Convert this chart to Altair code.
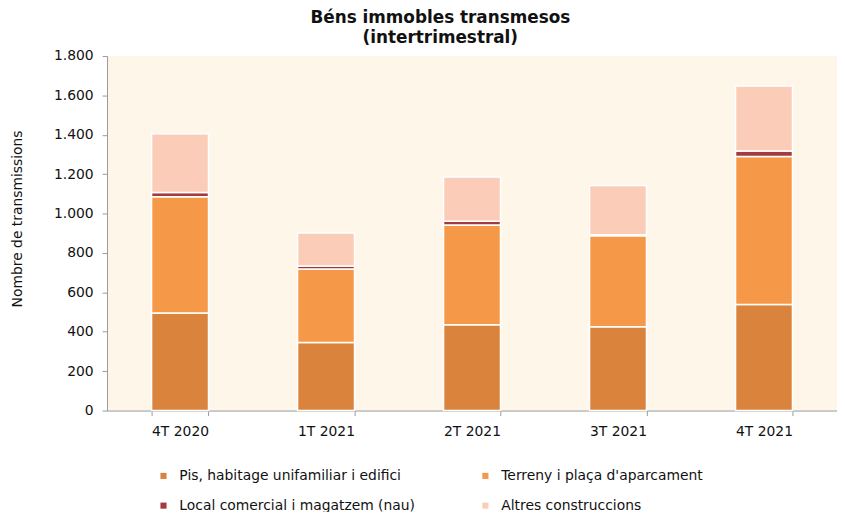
import altair as alt
import pandas as pd

quarters = ["4T 2020", "1T 2021", "2T 2021", "3T 2021", "4T 2021"]
series = [
    "Pis, habitage unifamiliar i edifici",
    "Terreny i plaça d'aparcament",
    "Local comercial i magatzem (nau)",
    "Altres construccions",
]
pis = [495, 346, 435, 425, 538]
terreny = [590, 373, 507, 462, 752]
local = [22, 15, 19, 5, 27]
altres = [298, 167, 225, 251, 331]
colors = ["#DA833D", "#F59848", "#A33A3E", "#FBCDB8"]

rows = []
for si, (name, vals) in enumerate(zip(series, [pis, terreny, local, altres])):
    for q, v in zip(quarters, vals):
        rows.append({"quarter": q, "series": name, "value": v, "idx": si})
df = pd.DataFrame(rows)

FONT = "DejaVu Sans"

chart = alt.Chart(df).mark_bar(stroke="white", strokeWidth=1.5).encode(
    x=alt.X("quarter:N", sort=quarters, title=None,
            scale=alt.Scale(paddingInner=0.61, paddingOuter=0.305),
            axis=alt.Axis(labelAngle=0, tickBand="extent", labelFontSize=14,
                          labelColor="#111", labelFont=FONT, labelPadding=9,
                          domainColor="#999", tickColor="#999", tickSize=5)),
    y=alt.Y("value:Q", stack="zero", title="Nombre de transmissions",
            scale=alt.Scale(domain=[0, 1800], nice=False),
            axis=alt.Axis(values=list(range(0, 1801, 200)), grid=False,
                          labelExpr="replace(format(datum.value, ',d'), ',', '.')",
                          labelFontSize=14, labelColor="#111", labelFont=FONT,
                          labelPadding=9, domainColor="#999", tickColor="#999",
                          tickSize=5, titleFont=FONT, titleFontSize=14,
                          titleFontWeight="normal", titleColor="#111",
                          titleX=-90, titleY=164, titleAngle=270,
                          titleAlign="center", titleBaseline="middle")),
    color=alt.Color("series:N", sort=series,
                    scale=alt.Scale(domain=series, range=colors),
                    legend=alt.Legend(title=None, orient="none", legendX=50,
                                      legendY=417, columns=2, columnPadding=63,
                                      direction="horizontal",
                                      rowPadding=16, symbolType="square",
                                      symbolSize=38, symbolStrokeWidth=0,
                                      labelFontSize=14, labelFont=FONT,
                                      labelColor="#111", labelOffset=9,
                                      labelLimit=400)),
    order=alt.Order("idx:Q", sort="ascending"),
).properties(
    width=737,
    height=358,
    title=alt.TitleParams(
        ["Béns immobles transmesos", "(intertrimestral)"],
        font=FONT, fontSize=17, fontWeight="bold", color="#111",
        anchor="middle", dx=-32, offset=2, lineHeight=20,
    ),
    autosize=alt.AutoSizeParams(type="none"),
    padding={"left": 100, "top": 46, "right": 0, "bottom": 100},
).configure_view(
    fill="#FEF6E8", stroke=None
)

chart.save("out.html", embed_options={"renderer": "svg", "actions": False})
